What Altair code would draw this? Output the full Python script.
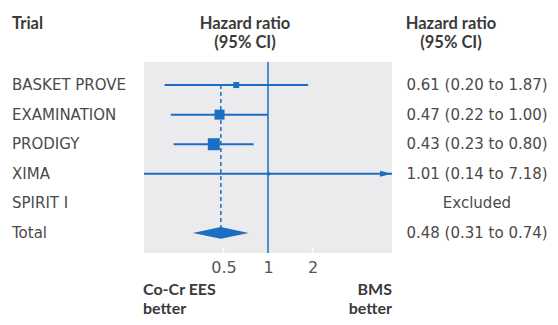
import altair as alt
import pandas as pd

trials = ["BASKET PROVE", "EXAMINATION", "PRODIGY", "XIMA", "SPIRIT I", "Total"]
hr = [0.61, 0.47, 0.43, 1.01, None, 0.48]
ci_lo = [0.20, 0.22, 0.23, 0.14, None, 0.31]
ci_hi = [1.87, 1.00, 0.80, 7.18, None, 0.74]
hr_text = ["0.61 (0.20 to 1.87)", "0.47 (0.22 to 1.00)", "0.43 (0.23 to 0.80)",
           "1.01 (0.14 to 7.18)", "Excluded", "0.48 (0.31 to 0.74)"]
marker_area = [36, 100, 144, 9]
tick_values = [0.5, 1, 2]
x_domain = [0.145, 6.9]

BLUE = "#1b6ec2"
TXT = "#4a4a4a"
HEAD = "#3a3a3a"
FONT = "DejaVu Sans"
BFONT = "Lato"

rows = pd.DataFrame({"trial": trials, "row": list(range(len(trials))), "hr": hr,
                     "lo": ci_lo, "hi": ci_hi, "label": hr_text})
studies = rows.iloc[:4].copy()
studies["size"] = marker_area
arrow_df = studies[studies["hi"] > x_domain[1]]
total = rows.iloc[5]
half = 0.2
diamond = pd.DataFrame({
    "x": [total["lo"], total["hr"], total["hi"]],
    "y": [total["row"], total["row"] - half, total["row"]],
    "y2": [total["row"], total["row"] + half, total["row"]],
})
dash_df = pd.DataFrame({"x": [total["hr"]], "y": [0], "y2": [total["row"]]})
ticks_df = pd.DataFrame({"x": tick_values})

xscale = alt.Scale(type="log", domain=x_domain, clamp=True, nice=False)
yscale = alt.Scale(domain=[-0.78, 5.68], reverse=True, nice=False, zero=False)
xaxis = alt.Axis(values=tick_values, domain=False, ticks=False, grid=False,
                 labelPadding=6, labelFontSize=16, labelFont=FONT,
                 labelColor="#555555", title=None, format="~g")

base_ticks = alt.Chart(ticks_df).mark_rule(color="white", strokeWidth=1.5).encode(
    x=alt.X("x:Q", scale=xscale, axis=xaxis),
    y=alt.value(185), y2=alt.value(191))

one_line = alt.Chart(pd.DataFrame({"x": [1]})).mark_rule(color=BLUE, strokeWidth=1.5).encode(
    x=alt.X("x:Q"))

dash = alt.Chart(dash_df).mark_rule(color=BLUE, strokeWidth=1.5, strokeDash=[4, 3]).encode(
    x="x:Q", y=alt.Y("y:Q", scale=yscale, axis=None), y2="y2:Q")

ci = alt.Chart(studies).mark_rule(color=BLUE, strokeWidth=2).encode(
    x="lo:Q", x2="hi:Q", y=alt.Y("row:Q"))

pts = alt.Chart(studies).mark_point(shape="square", filled=True, opacity=1, color=BLUE).encode(
    x="hr:Q", y="row:Q", size=alt.Size("size:Q", scale=None, legend=None))

arrow = alt.Chart(arrow_df).mark_point(shape="M-1,-0.5L1,0L-1,0.5Z", filled=True, opacity=1,
                                       color=BLUE, size=144, xOffset=-6).encode(
    x="hi:Q", y="row:Q")

dia = alt.Chart(diamond).mark_area(color=BLUE, opacity=1).encode(
    x="x:Q", y="y:Q", y2="y2:Q")

row_labels = alt.Chart(rows).mark_text(align="left", baseline="middle", font=FONT,
                                       fontSize=15, color=TXT).encode(
    x=alt.value(-132), y="row:Q", text="trial:N")

val_labels = alt.Chart(rows).mark_text(align="center", baseline="middle", font=FONT,
                                       fontSize=15, color=TXT).encode(
    x=alt.value(333), y="row:Q", text="label:N")

def head(lines, x, y, align, lh=19, fs=16.5):
    return alt.Chart(pd.DataFrame({"a": [0]})).mark_text(
        text=lines, align=align, baseline="alphabetic", font=BFONT, fontWeight="bold",
        fontSize=fs, color=HEAD, lineHeight=lh).encode(x=alt.value(x), y=alt.value(y))

h_trial = head(["Trial"], -132, -33, "left")
h_mid = head(["Hazard ratio", "(95% CI)"], 101, -33, "center")
h_right = head(["Hazard ratio", "(95% CI)"], 307, -33, "center")
b_left = head(["Co-Cr EES", "better"], -1, 233, "left", 19, 16)
b_right = head(["BMS", "better"], 248, 233, "right", 19, 16)

chart = alt.layer(base_ticks, dash, one_line, ci, pts, arrow, dia, row_labels, val_labels,
                  h_trial, h_mid, h_right, b_left, b_right).properties(
    width=248, height=191,
    padding={"left": 136, "top": 54, "right": 158, "bottom": 64},
    autosize=alt.AutoSizeParams(type="none"),
    background="white",
).configure_view(fill="#ebebee", strokeWidth=0)

chart.save("out.html", embed_options={"renderer": "svg", "actions": False})
